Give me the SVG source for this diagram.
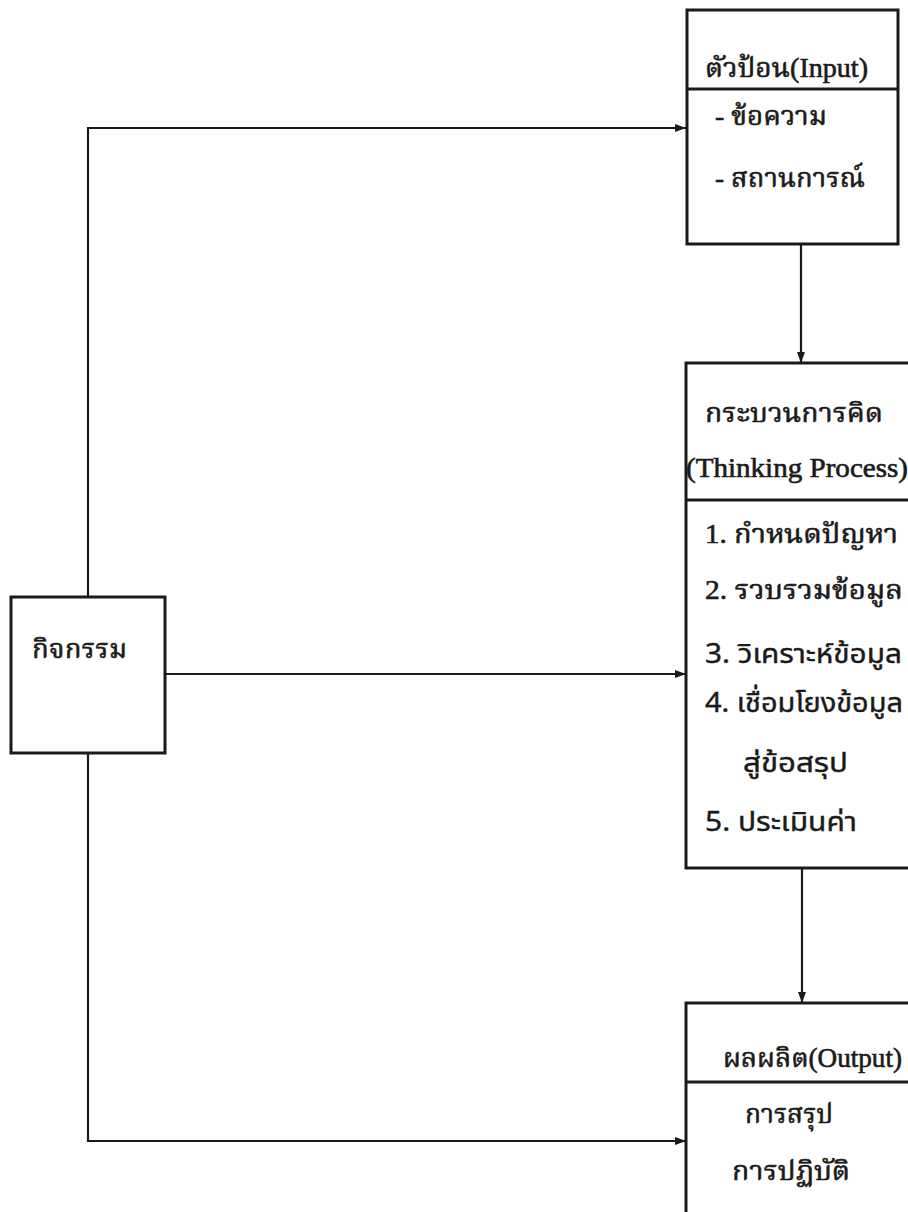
<svg xmlns="http://www.w3.org/2000/svg" width="908" height="1212" viewBox="0 0 908 1212">
<style>
.box{fill:#fff;stroke:#1a1a1a;stroke-width:3}
.div{stroke:#1a1a1a;stroke-width:3}
.conn{fill:none;stroke:#1a1a1a;stroke-width:2.2}
.t{font-family:"Liberation Serif","Noto Serif Thai","Noto Sans Thai","DejaVu Sans",serif;font-size:27px;fill:#1a1a1a;stroke:#1a1a1a;stroke-width:0.6}
.s{font-family:"Noto Sans Thai","Liberation Sans","DejaVu Sans",sans-serif;font-size:27px;fill:#1a1a1a;stroke:#1a1a1a;stroke-width:0.4}
</style>
<defs>
<marker id="ah" markerUnits="userSpaceOnUse" markerWidth="12" markerHeight="10" refX="11" refY="5" orient="auto">
<path d="M0,1 L11,5 L0,9 Z" fill="#1a1a1a"/>
</marker>
</defs>
<rect width="908" height="1212" fill="#fff"/>
<g id="connectors">
<path class="conn" d="M88,597 V128 H686" marker-end="url(#ah)"/>
<path class="conn" d="M165,674 H686" marker-end="url(#ah)"/>
<path class="conn" d="M88,753 V1141 H686" marker-end="url(#ah)"/>
<path class="conn" d="M801,244 V363" marker-end="url(#ah)"/>
<path class="conn" d="M802,868 V1003" marker-end="url(#ah)"/>
</g>
<g id="activity">
<rect class="box" x="11" y="597" width="154" height="156"/>
<text class="t" x="32" y="658" textLength="95" lengthAdjust="spacingAndGlyphs">กิจกรรม</text>
</g>
<g id="input">
<rect class="box" x="687" y="10" width="211" height="234"/>
<line class="div" x1="687" y1="89" x2="898" y2="89"/>
<text class="t" x="705" y="77" textLength="163" lengthAdjust="spacingAndGlyphs">ตัวป้อน(Input)</text>
<text class="t" x="715" y="125" textLength="112" lengthAdjust="spacingAndGlyphs">- ข้อความ</text>
<text class="t" x="715" y="187" textLength="150" lengthAdjust="spacingAndGlyphs">- สถานการณ์</text>
</g>
<g id="process">
<rect class="box" x="686" y="363" width="240" height="505"/>
<line class="div" x1="686" y1="500" x2="926" y2="500"/>
<text class="t" x="705" y="422" textLength="178" lengthAdjust="spacingAndGlyphs">กระบวนการคิด</text>
<text class="t" x="686" y="477" textLength="222" lengthAdjust="spacingAndGlyphs">(Thinking Process)</text>
<text class="t" x="705" y="543" textLength="193" lengthAdjust="spacingAndGlyphs">1. กำหนดปัญหา</text>
<text class="t" x="705" y="599" textLength="198" lengthAdjust="spacingAndGlyphs">2. รวบรวมข้อมูล</text>
<text class="s" x="705" y="663" textLength="197" lengthAdjust="spacingAndGlyphs">3. วิเคราะห์ข้อมูล</text>
<text class="s" x="705" y="712" textLength="198" lengthAdjust="spacingAndGlyphs">4. เชื่อมโยงข้อมูล</text>
<text class="s" x="743" y="772" textLength="105" lengthAdjust="spacingAndGlyphs">สู่ข้อสรุป</text>
<text class="s" x="705" y="831" textLength="152" lengthAdjust="spacingAndGlyphs">5. ประเมินค่า</text>
</g>
<g id="output">
<rect class="box" x="686" y="1003" width="240" height="230"/>
<line class="div" x1="686" y1="1082" x2="926" y2="1082"/>
<text class="t" x="723" y="1067" textLength="179" lengthAdjust="spacingAndGlyphs">ผลผลิต(Output)</text>
<text class="t" x="745" y="1123" textLength="88" lengthAdjust="spacingAndGlyphs">การสรุป</text>
<text class="t" x="732" y="1180" textLength="118" lengthAdjust="spacingAndGlyphs">การปฏิบัติ</text>
</g>
</svg>
